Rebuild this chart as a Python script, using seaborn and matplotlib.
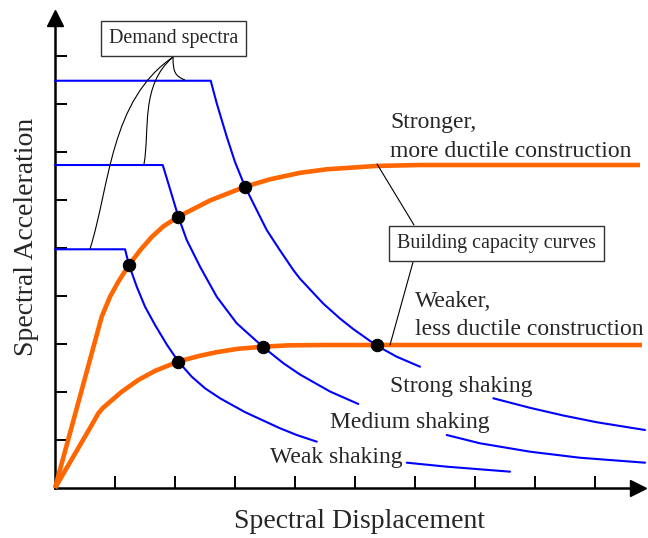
import numpy as np
import pandas as pd
import matplotlib.pyplot as plt
from matplotlib.path import Path
from matplotlib.patches import PathPatch
import seaborn as sns

# values, in tick units (one tick step = 1)
# demand spectra: the lower part of each one is split where its label sits
strong_x = [0, 2.595, 2.695, 2.862, 3.0, 3.167, 3.417, 3.528, 3.75, 3.972,
            4.083, 4.472, 4.75, 4.972, 5.362, 5.695, 6.083]
strong_y = [8.485, 8.485, 8.015, 7.319, 6.79, 6.277, 5.652, 5.375, 4.95,
            4.54, 4.36, 3.84, 3.53, 3.31, 2.965, 2.735, 2.527]
strong_tail_x = [7.305, 7.917, 8.472, 9.028, 9.833]
strong_tail_y = [1.869, 1.67, 1.51, 1.37, 1.208]

medium_x = [0, 1.795, 1.888, 2.055, 2.195, 2.417, 2.695, 3.028, 3.462,
            3.805, 4.083, 4.583, 5.055]
medium_y = [6.729, 6.729, 6.348, 5.652, 5.167, 4.61, 3.985, 3.431, 2.944,
            2.6, 2.364, 2.01, 1.75]
medium_tail_x = [6.528, 7.083, 7.917, 8.75, 9.833]
medium_tail_y = [1.104, 0.931, 0.756, 0.63, 0.527]

weak_x = [0, 1.167, 1.233, 1.362, 1.5, 1.667, 1.862, 2.055, 2.278, 2.5,
          2.75, 3.167, 3.75, 4.028, 4.362]
weak_y = [4.973, 4.973, 4.646, 4.194, 3.777, 3.396, 2.99, 2.635, 2.319,
          2.077, 1.869, 1.58, 1.244, 1.104, 0.965]
weak_tail_x = [5.862, 6.528, 7.583]
weak_tail_y = [0.527, 0.444, 0.34]

# building capacity curves
stronger_x = [0, 0.778, 0.917, 1.055, 1.233, 1.417, 1.612, 1.805, 2.055,
              2.583, 3.167, 3.583, 4.083, 4.528, 5.362, 6.083, 9.75]
stronger_y = [0, 3.569, 3.985, 4.298, 4.646, 4.95, 5.23, 5.45, 5.652,
              5.99, 6.277, 6.431, 6.566, 6.64, 6.71, 6.729, 6.729]
weaker_x = [0, 0.612, 0.722, 0.8, 0.888, 1.112, 1.388, 1.667, 2.055, 2.4,
            2.695, 3.05, 3.462, 3.9, 4.5, 9.783]
weaker_y = [0, 1.3125, 1.556, 1.67, 1.765, 2.006, 2.25, 2.44, 2.635, 2.75,
            2.83, 2.9, 2.944, 2.972, 2.979, 2.979]

# performance points
pts_x = [1.233, 2.055, 3.167, 2.055, 3.462, 5.362]
pts_y = [4.646, 5.652, 6.277, 2.635, 2.944, 2.975]

sns.set_theme(style='white')
plt.rcParams['font.family'] = ['Liberation Serif', 'DejaVu Serif']

blue = '#0000ff'
orange = '#ff6600'

fig = plt.figure(figsize=(6.48, 5.38), dpi=100)
ax = fig.add_axes([0, 0, 1, 1])

demand = [(strong_x, strong_y), (strong_tail_x, strong_tail_y),
          (medium_x, medium_y), (medium_tail_x, medium_tail_y),
          (weak_x, weak_y), (weak_tail_x, weak_tail_y)]
for xs, ys in demand:
    sns.lineplot(x=xs, y=ys, ax=ax, color=blue, lw=1.5, sort=False,
                 estimator=None, zorder=3)

for xs, ys in [(stronger_x, stronger_y), (weaker_x, weaker_y)]:
    sns.lineplot(x=xs, y=ys, ax=ax, color=orange, lw=3.3, sort=False,
                 estimator=None, zorder=4, solid_capstyle='butt')

sns.scatterplot(x=pts_x, y=pts_y, ax=ax, color='black', s=80,
                edgecolor='black', zorder=5)

# axes with arrow heads
ax.set_xlim(-0.917, 9.883)
ax.set_ylim(-1.042, 10.167)
for s in ['top', 'right']:
    ax.spines[s].set_visible(False)
ax.spines['left'].set_position(('data', 0))
ax.spines['bottom'].set_position(('data', 0))
ax.spines['left'].set_bounds(0, 9.8)
ax.spines['bottom'].set_bounds(0, 9.72)
for s in ['left', 'bottom']:
    ax.spines[s].set_color('black')
    ax.spines[s].set_linewidth(1.8)
ax.plot(0, 9.8, marker='^', color='black', ms=11.5, clip_on=False, zorder=6)
ax.plot(9.72, 0, marker='>', color='black', ms=11.5, clip_on=False, zorder=6)

ax.set_xticks(range(1, 10))
ax.set_yticks(range(1, 10))
ax.set_xticklabels([])
ax.set_yticklabels([])
ax.tick_params(direction='in', length=8.6, width=1.4, color='black',
               left=True, bottom=True)
ax.set_xlabel('')
ax.set_ylabel('')

# axis titles
ax.text(5.07, -0.833, 'Spectral Displacement', fontsize=20, ha='center',
        va='baseline')
ax.text(-0.48, 5.23, 'Spectral Acceleration', fontsize=20, rotation=90,
        ha='center', va='center')

# curve labels
lab = dict(fontsize=17, ha='left', va='baseline')
ax.text(5.583, 7.5, 'Stronger,', **lab)
ax.text(5.583, 6.896, 'more ductile construction', **lab)
ax.text(6.0, 3.771, 'Weaker,', **lab)
ax.text(6.0, 3.1875, 'less ductile construction', **lab)
ax.text(5.583, 2.0, 'Strong shaking', **lab)
ax.text(4.583, 1.25, 'Medium shaking', **lab)
ax.text(3.583, 0.521, 'Weak shaking', **lab)

# boxed callouts
box = dict(boxstyle='square,pad=0.4', fc='white', ec='#333333', lw=1)
ax.text(1.975, 9.365, 'Demand spectra', fontsize=14.4, ha='center',
        va='center', bbox=box, zorder=7)
ax.text(7.35, 5.094, 'Building capacity curves', fontsize=14.4,
        ha='center', va='center', bbox=box, zorder=7)

# leader lines
curves = [
    [(1.967, 8.979), (0.917, 8.083), (0.917, 6.31), (0.583, 4.979)],
    [(1.967, 8.979), (1.417, 8.396), (1.583, 7.458), (1.483, 6.75)],
    [(1.967, 8.979), (1.967, 8.667), (2.0, 8.583), (2.167, 8.5)],
]
for c in curves:
    p = Path(c, [Path.MOVETO, Path.CURVE4, Path.CURVE4, Path.CURVE4])
    ax.add_patch(PathPatch(p, fc='none', ec='black', lw=0.8, zorder=6))
ax.plot([5.983, 5.367], [5.479, 6.75], color='black', lw=0.8, zorder=6)
ax.plot([5.967, 5.583], [4.708, 2.979], color='black', lw=0.8, zorder=6)

fig.savefig('out.png', dpi=100)
